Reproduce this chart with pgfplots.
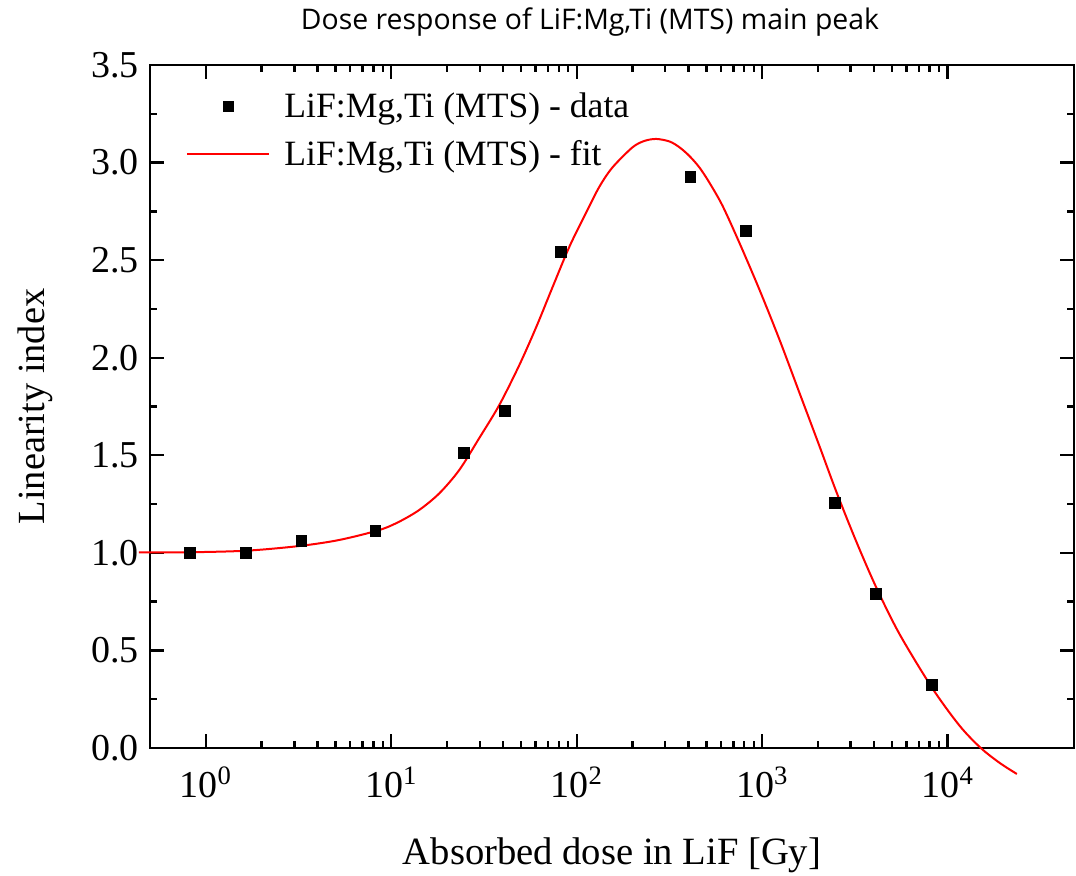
\documentclass[border=0pt]{standalone}
\usepackage{fontspec}
\setmainfont{Liberation Serif}
\newfontfamily\titlefont{Open Sans}
\usepackage{pgfplots}
\pgfplotsset{compat=1.18}
\begin{document}
\begin{tikzpicture}
\begin{axis}[
  name=ax,
  scale only axis,
  width=462pt, height=341.5pt,
  xmode=log,
  xmin=0.5, xmax=4.8e4,
  ymin=0, ymax=3.5,
  clip=false,
  axis line style={line width=1.3pt},
  every tick/.style={black, line width=1.2pt},
  major tick length=7pt,
  minor tick length=3.5pt,
  xtick={1,10,100,1000,10000},
  xticklabels={10\textsuperscript{0},10\textsuperscript{1},10\textsuperscript{2},10\textsuperscript{3},10\textsuperscript{4}},
  ytick={0,0.5,...,3.5},
  minor y tick num=1,
  yticklabel style={/pgf/number format/fixed,/pgf/number format/fixed zerofill,/pgf/number format/precision=1,/pgf/number format/assume math mode=true},
  tick label style={font=\fontsize{19}{22}\selectfont},
  xticklabel style={yshift=-6pt},
  yticklabel style={xshift=-2pt},
  xlabel={Absorbed dose in LiF [Gy]},
  ylabel={Linearity index},
  every axis x label/.style={at={(axis description cs:0.5,-0.1567)}, anchor=center, font=\fontsize{19.3}{23}\selectfont},
  every axis y label/.style={at={(axis description cs:-0.1243,0.5)}, rotate=90, anchor=center, font=\fontsize{19.2}{23}\selectfont},
  title={Dose response of LiF:Mg,Ti (MTS) main peak},
  every axis title/.style={at={(axis description cs:0.4762,1.063)}, anchor=center, font=\titlefont\fontsize{14.2}{17}\selectfont},
  legend style={at={(axis description cs:0.039,0.966)}, anchor=north west, draw=none, fill=none,
    font=\fontsize{17.8}{21}\selectfont, row sep=6pt, inner sep=0pt,
    /tikz/every odd column/.append style={column sep=5pt}},
  legend cell align=left,
  legend image code/.code={\draw[mark repeat=2,mark phase=2,#1] plot coordinates {(0pt,0pt) (20.5pt,0pt) (41pt,0pt)};},
]
\addplot[only marks, mark=square*, mark size=2.7pt, black] coordinates {
(0.82,1.0) (1.64,1.0) (3.28,1.061) (8.2,1.112) (24.6,1.512) (41,1.727)
(82,2.542) (410,2.927) (820,2.650) (2460,1.256) (4100,0.789) (8200,0.323)
};
\addlegendentry{LiF:Mg,Ti (MTS) - data}
\addplot[red, line width=1pt, smooth] coordinates {
(0.436,1.002) (0.813,1.003) (1.651,1.011) (3.188,1.035) (5.24,1.066) (8.616,1.117)
(11.05,1.160) (14.16,1.220) (18.16,1.305) (23.28,1.425) (29.85,1.589) (38.26,1.758)
(49.07,1.963) (60.6,2.159) (73.95,2.360) (91.3,2.569) (112.8,2.747) (132.6,2.877)
(155.8,2.975) (199.8,3.078) (231.9,3.111) (268.3,3.121) (316.5,3.108) (358.3,3.078)
(405.7,3.033) (459.4,2.974) (520,2.896) (611.5,2.778) (755,2.587) (968,2.347) (1241,2.091)
(1591,1.818) (2041,1.544) (2511,1.313) (3219,1.057) (4129,0.821) (5514,0.582)
(8311,0.303) (11622,0.113) (15087,0.0) (19110,-0.077) (23603,-0.133)
};
\addlegendentry{LiF:Mg,Ti (MTS) - fit}
\end{axis}
\pgfresetboundingbox
\path ([shift={(-75pt,-64pt)}]ax.south west) rectangle ([shift={(1pt,32.5pt)}]ax.north east);
\end{tikzpicture}
\end{document}
